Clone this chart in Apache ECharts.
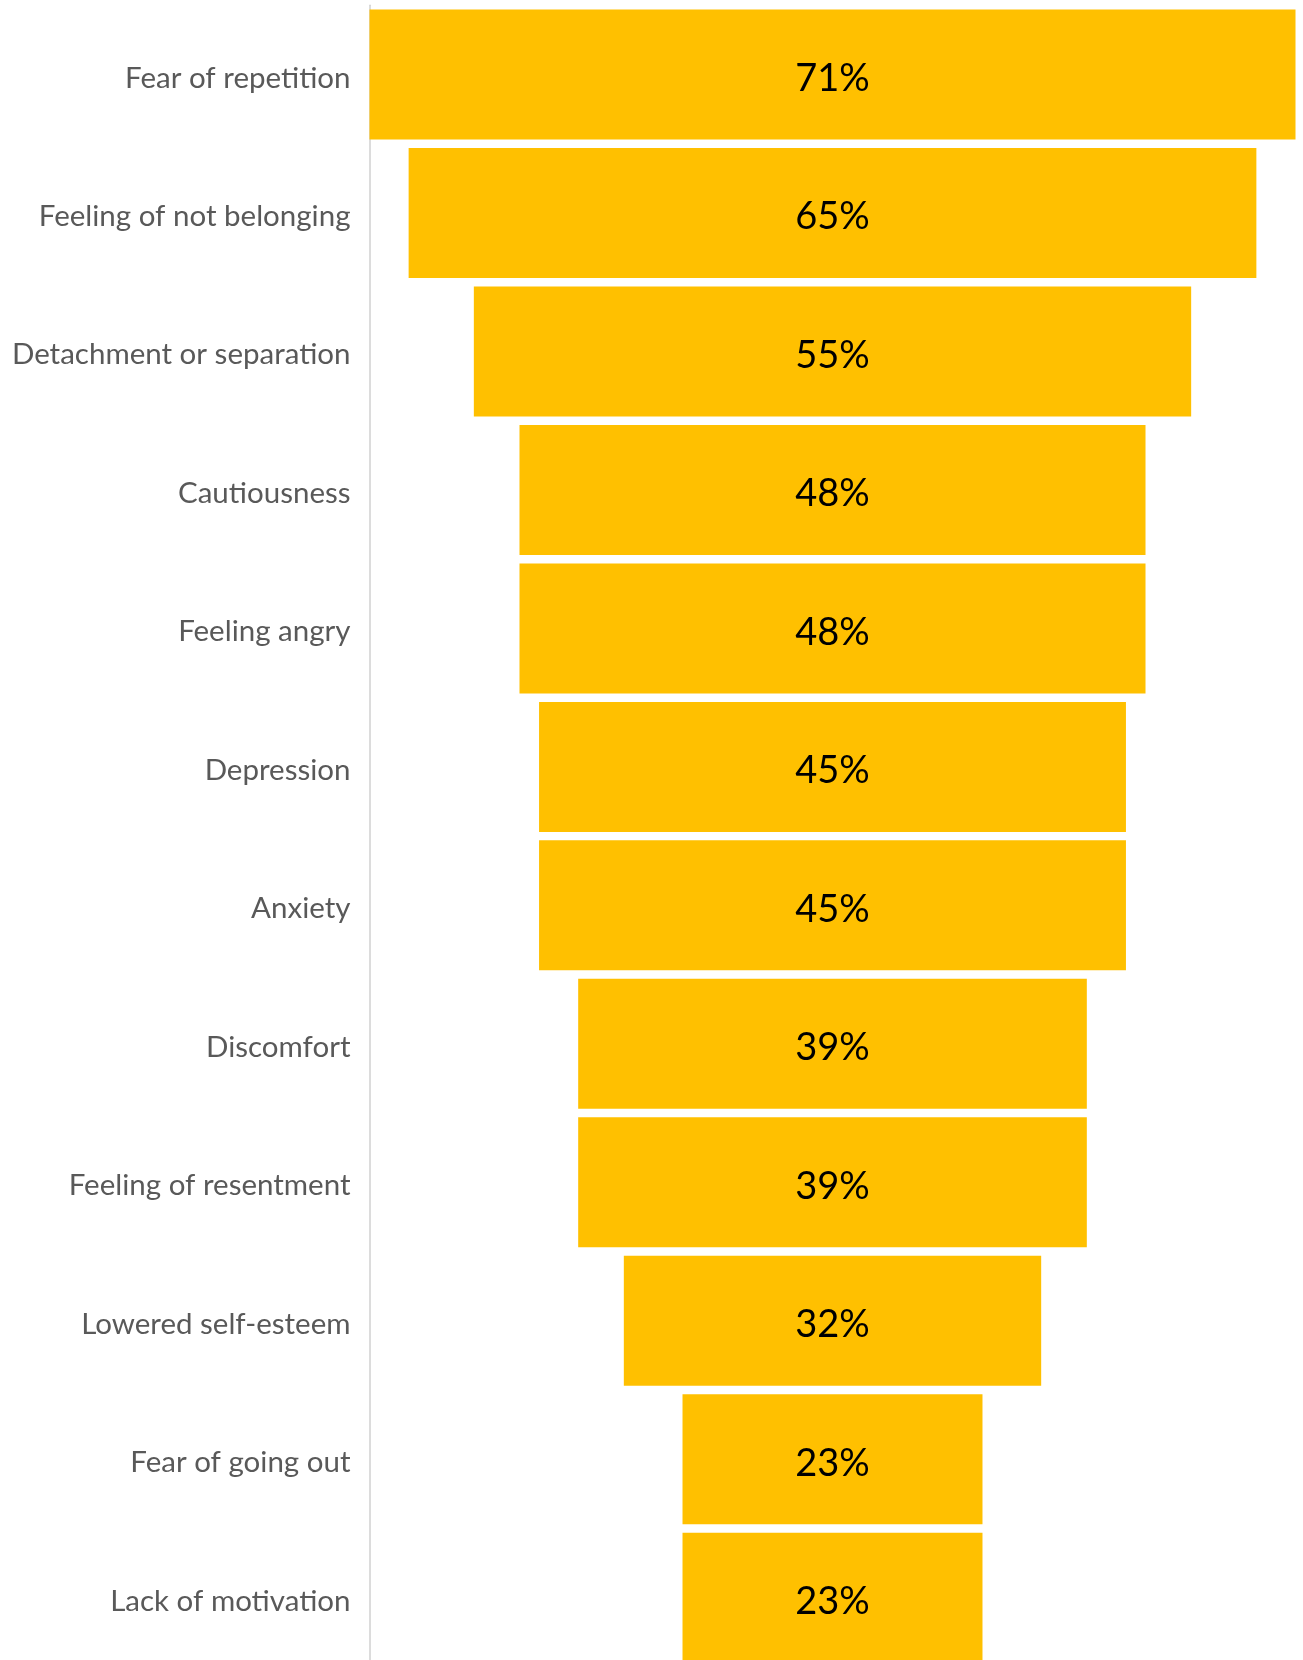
<!DOCTYPE html>
<html>
<head>
<meta charset="utf-8">
<style>
  html, body { margin: 0; padding: 0; background: #ffffff; overflow: hidden; }
  /* the last bar runs off the bottom edge of the page */
  #chart { width: 1303px; height: 1667px; }
</style>
<script src="https://cdn.jsdelivr.net/npm/echarts@6/dist/echarts.min.js"></script>
</head>
<body>
<div id="chart"></div>
<script>
// Reported effects, top to bottom
const categories = [
  'Fear of repetition',
  'Feeling of not belonging',
  'Detachment or separation',
  'Cautiousness',
  'Feeling angry',
  'Depression',
  'Anxiety',
  'Discomfort',
  'Feeling of resentment',
  'Lowered self-esteem',
  'Fear of going out',
  'Lack of motivation'
];

// Share of respondents, in percent
const shares = [71, 65, 55, 48, 48, 45, 45, 39, 39, 32, 23, 23];

// Widest bar sets the axis extent; each bar is centred by an invisible offset bar
const maxShare = Math.max(...shares);
const offsets = shares.map(v => (maxShare - v) / 2);

const chart = echarts.init(document.getElementById('chart'), null, { renderer: 'canvas' });

chart.setOption({
  animation: false,
  backgroundColor: '#ffffff',
  grid: {
    left: 369.5,
    right: 7.5,
    top: 5.25,
    bottom: 0,
    containLabel: false
  },
  xAxis: {
    type: 'value',
    min: 0,
    max: maxShare,
    show: false
  },
  yAxis: {
    type: 'category',
    data: categories,
    inverse: true,
    axisLine: { show: true, lineStyle: { color: '#D0D0D0', width: 1.5 } },
    axisTick: { show: false },
    splitLine: { show: false },
    axisLabel: {
      margin: 19,
      formatter: name => '{t|' + name + '}',
      rich: {
        t: {
          color: '#595959',
          fontFamily: 'Lato',
          fontSize: 29.5,
          padding: [7, 0, 0, 0]
        }
      }
    }
  },
  series: [
    {
      name: 'offset',
      type: 'bar',
      stack: 'funnel',
      data: offsets,
      barWidth: 130,
      itemStyle: { color: 'rgba(0,0,0,0)' },
      emphasis: { disabled: true },
      silent: true
    },
    {
      name: 'share',
      type: 'bar',
      stack: 'funnel',
      data: shares,
      barWidth: 130,
      itemStyle: { color: '#FFC000' },
      label: {
        show: true,
        position: 'inside',
        formatter: p => p.value + '%',
        color: '#000000',
        fontFamily: 'Lato',
        fontSize: 38,
        offset: [0, 4]
      }
    }
  ]
});
</script>
</body>
</html>
